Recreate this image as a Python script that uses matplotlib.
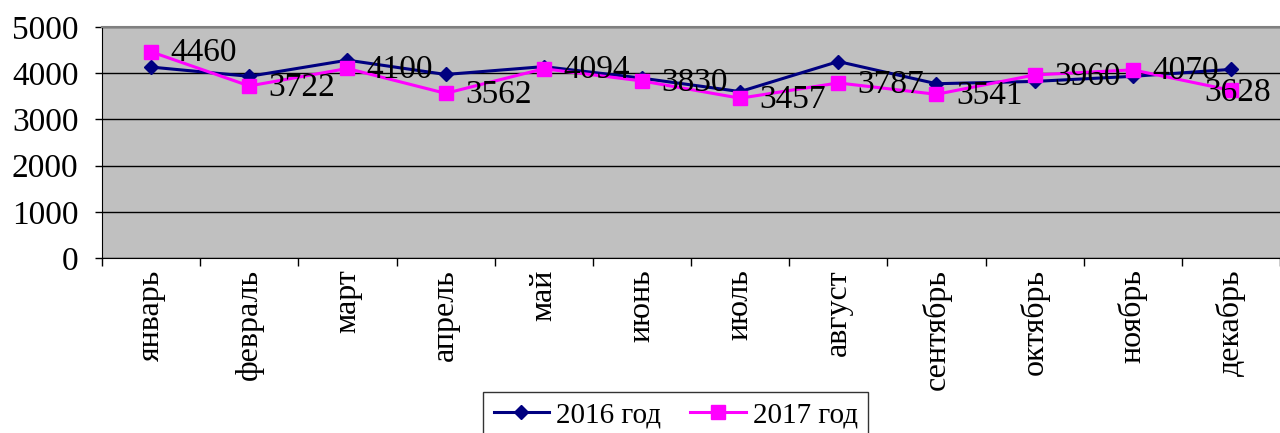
import matplotlib
matplotlib.use("Agg")
from matplotlib import pyplot as plt
import numpy as np

plt.rcParams['font.family'] = ['Liberation Serif', 'DejaVu Serif']

months = ["январь", "февраль", "март", "апрель", "май", "июнь",
          "июль", "август", "сентябрь", "октябрь", "ноябрь", "декабрь"]
y2016 = [4130, 3930, 4280, 3970, 4140, 3890, 3600, 4250, 3770, 3820, 3930, 4080]
y2017 = [4460, 3722, 4100, 3562, 4094, 3830, 3457, 3787, 3541, 3960, 4070, 3628]

fig = plt.figure(figsize=(12.8, 4.33), dpi=100)
ax = fig.add_axes([0.0797, 0.404, 0.9203, 0.534])
ax.set_facecolor("#C0C0C0")

x = np.arange(len(months))
ax.plot(x, y2016, color="#000080", lw=2.2, marker="D", ms=7, label="2016 год")
ax.plot(x, y2017, color="#FF00FF", lw=2.2, marker="s", ms=10, label="2017 год")

for i, v in enumerate(y2017):
    off = (14, -1) if i < len(y2017) - 1 else (-19, -2)
    ax.annotate(str(v), (x[i], v), xytext=off, textcoords="offset points",
                fontsize=24, va="center", ha="left")

ax.set_xlim(-0.5, len(months) - 0.5)
ax.set_ylim(0, 5000)
ax.set_yticks([0, 1000, 2000, 3000, 4000, 5000])
ax.tick_params(axis="y", labelsize=24, length=5, width=1, pad=12)
ax.set_xticks(x)
ax.set_xticklabels(months, rotation=90, fontsize=23)
ax.tick_params(axis="x", which="major", length=0, pad=8)
ax.set_xticks(np.arange(-0.5, len(months), 1), minor=True)
ax.tick_params(axis="x", which="minor", length=6, width=1)

ax.grid(axis="y", color="black", lw=1)
ax.set_axisbelow(True)
ax.spines["top"].set_color("#808080")
ax.spines["top"].set_linewidth(1.5)
ax.spines["right"].set_visible(False)

leg = fig.legend(loc="upper center", bbox_to_anchor=(0.528, 0.095), ncol=2,
                 fontsize=21, frameon=True, fancybox=False, edgecolor="black",
                 handlelength=1.9, handletextpad=0.25, columnspacing=1.0,
                 borderpad=0.35, borderaxespad=0)
leg.get_frame().set_linewidth(1)

fig.savefig("out.png", dpi=100)
